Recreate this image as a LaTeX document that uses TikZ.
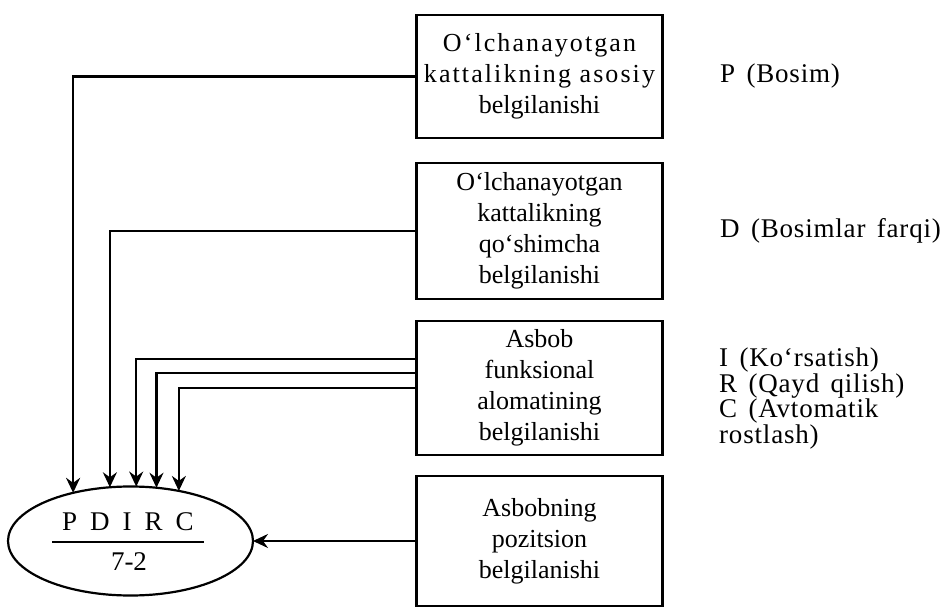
\documentclass[tikz,border=0pt]{standalone}
\usepackage{fontspec}
\setmainfont{Liberation Serif}
\newfontfamily\spacedfont[LetterSpace=3,WordSpace=1.5]{Liberation Serif}
\newfontfamily\boxspaced[LetterSpace=8]{Liberation Serif}
\usetikzlibrary{arrows.meta,shapes.geometric,calc}
\begin{document}
\begin{tikzpicture}[x=1pt,y=-1pt,
  box/.style={draw, line width=2.2pt, minimum width=246pt, inner sep=0pt, outer sep=0pt, align=center, font=\fontsize{26}{31}\selectfont},
  conn/.style={line width=2.2pt, -{Stealth[length=15pt,width=14pt,inset=5pt]}},
  lbl/.style={anchor=base west, inner sep=0pt, align=left, font=\spacedfont\fontsize{27}{25.5}\selectfont},
  oval/.style={draw, ellipse, line width=2.2pt, minimum width=245pt, minimum height=109pt, inner sep=0pt, outer sep=0pt}]
\useasboundingbox (0,0) rectangle (943,607);
\node[box, minimum height=123pt] (b1) at (539.5,76.5) {{\boxspaced O‘lchanayotgan}\\{\boxspaced kattalikning asosiy}\\belgilanishi};
\node[box, minimum height=136pt] (b2) at (539.5,231) {O‘lchanayotgan\\kattalikning\\qo‘shimcha\\belgilanishi};
\node[box, minimum height=134pt] (b3) at (539.5,388) {Asbob\\funksional\\alomatining\\belgilanishi};
\node[box, minimum height=130pt] (b4) at (539.5,541) {Asbobning\\pozitsion\\belgilanishi};
\node[oval] (e) at (130.5,541) {};
\node[anchor=base, inner sep=0pt, font=\fontsize{27}{27}\selectfont] (pd) at (128,530) {P\hspace{13pt}D\hspace{13pt}I\hspace{13pt}R\hspace{13pt}C};
\draw[line width=2.2pt] (52,542) -- (204,542);
\node[anchor=base, inner sep=0pt, font=\fontsize{27}{27}\selectfont] (n72) at (129,570) {7-2};
\draw[conn] (b1.west) -| (e.140.1);
\draw[conn] (b2.west) -| (e.111.8);
\draw[conn] ([yshift=29pt]b3.west) -| (e.84.2);
\draw[conn] ([yshift=15pt]b3.west) -| (e.64.4);
\draw[conn] (b3.west) -| (e.46.6);
\draw[conn] (b4.west) -- (e.east);
\node[lbl] (lp) at (720,83) {P (Bosim)};
\node[lbl] (ld) at (720,237) {D (Bosimlar farqi)};
\node[lbl] (li) at (719,443) {I (Ko‘rsatish)\\R (Qayd qilish)\\C (Avtomatik\\rostlash)};
\end{tikzpicture}
\end{document}
